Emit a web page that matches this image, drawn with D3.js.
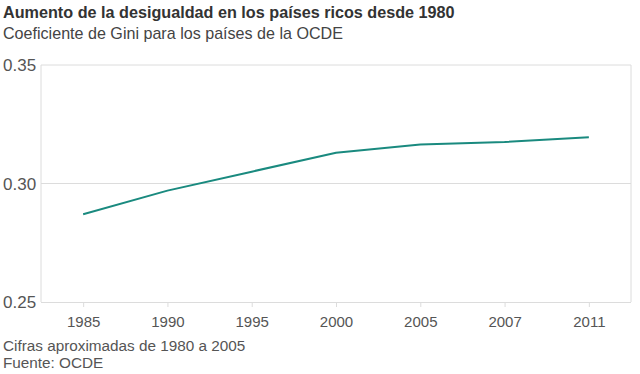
<!DOCTYPE html>
<html><head><meta charset="utf-8">
<script src="https://cdn.jsdelivr.net/npm/d3@7"></script>
<style>
body{margin:0;background:#fff;}
text{font-family:"Liberation Sans",Arial,Helvetica,sans-serif;}
</style></head>
<body><svg id="c" width="640" height="374"></svg>
<script>
const years = ["1985","1990","1995","2000","2005","2007","2011"];
const gini = [0.287, 0.297, 0.305, 0.313, 0.3165, 0.3175, 0.3195];
const yTicks = [0.25, 0.30, 0.35];
const title = "Aumento de la desigualdad en los países ricos desde 1980";
const subtitle = "Coeficiente de Gini para los países de la OCDE";
const notes = ["Cifras aproximadas de 1980 a 2005", "Fuente: OCDE"];

const svg = d3.select("#c");
const L = 41, R = 631, T = 65, B = 302;
const x = d3.scalePoint().domain(years).range([L, R]).padding(0.5);
const y = d3.scaleLinear().domain([0.25, 0.35]).range([B, T]);

svg.append("text").attr("x", 3).attr("y", 18).attr("font-size", 16.2).attr("font-weight", "bold").attr("fill", "#333").text(title);
svg.append("text").attr("x", 3).attr("y", 39).attr("font-size", 16.1).attr("fill", "#444").text(subtitle);

// gridlines
svg.append("g").selectAll("line").data(yTicks.filter(d => d > 0.25)).join("line")
  .attr("x1", L).attr("x2", R).attr("y1", d => y(d)).attr("y2", d => y(d))
  .attr("stroke", "#dcdcdc").attr("stroke-width", 1);
// frame sides
svg.append("line").attr("x1", L).attr("x2", L).attr("y1", T).attr("y2", B).attr("stroke", "#dcdcdc");
svg.append("line").attr("x1", R).attr("x2", R).attr("y1", T).attr("y2", B).attr("stroke", "#dcdcdc");

// y labels
svg.append("g").selectAll("text").data(yTicks).join("text")
  .attr("x", 3).attr("y", d => y(d) + 6).attr("font-size", 17).attr("fill", "#555")
  .text(d => d3.format(".2f")(d));

// x axis
const xa = svg.append("g").attr("transform", `translate(0,${B})`)
  .call(d3.axisBottom(x).tickSize(5).tickPadding(9).tickSizeOuter(0));
xa.select(".domain").attr("stroke", "#dcdcdc").attr("d", `M${L},0.5H${R}`);
xa.selectAll(".tick line").attr("stroke", "#dcdcdc");
xa.selectAll(".tick text").attr("font-size", 15).attr("fill", "#555")
  .attr("font-family", "Liberation Sans, Arial, sans-serif");

// line
const pts = years.map((yr, i) => [yr, gini[i]]);
svg.append("path").datum(pts)
  .attr("fill", "none").attr("stroke", "#1a8a7f").attr("stroke-width", 2)
  .attr("d", d3.line().x(d => x(d[0])).y(d => y(d[1])));

svg.append("g").selectAll("text").data(notes).join("text")
  .attr("x", 3).attr("y", (d, i) => 351 + i * 17).attr("font-size", 15.3).attr("fill", "#555")
  .text(d => d);
</script></body></html>
